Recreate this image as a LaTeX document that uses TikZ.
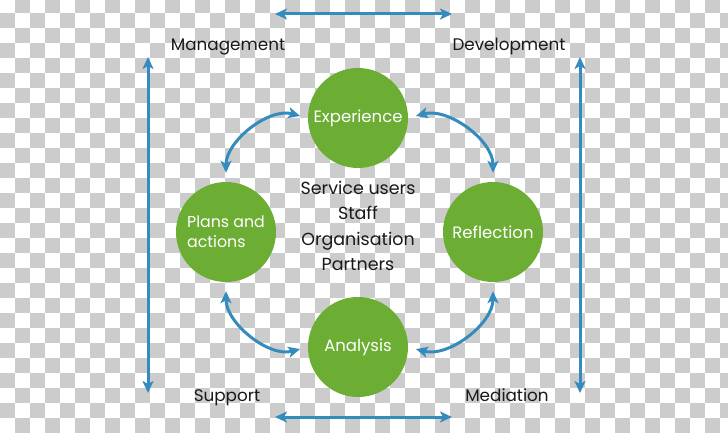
\documentclass[tikz,border=0pt]{standalone}
\usepackage{fontspec}
\setmainfont{Poppins}
\usepackage{tikz}
\usetikzlibrary{positioning,arrows.meta,calc}
\definecolor{CycleGreen}{RGB}{108,174,52}
\definecolor{CycleBlue}{RGB}{52,140,190}
\definecolor{CheckGray}{RGB}{204,204,204}
\newcommand{\checkerbg}[2]{%
    \fill[white] (0,0) rectangle (#1,#2);
    \foreach \j in {0,...,29}{%
        \pgfmathtruncatemacro{\firstcol}{mod(\j+1,2)}
        \pgfmathtruncatemacro{\secondcol}{\firstcol+2}
        \foreach \i in {\firstcol,\secondcol,...,48}
            \fill[CheckGray] ({15*\i},{434-15*\j}) rectangle ++(15,-15);
    }
}

\begin{document}
\begin{tikzpicture}[x=1pt,y=1pt,
    stage/.style={circle,fill=CycleGreen,minimum size=100pt,inner sep=0pt,
        text=white,font=\fontsize{16.5}{19}\selectfont},
    side/.style={font=\fontsize{16.8}{18}\selectfont,text=black!90,
        text height=12pt,text depth=4pt},
    link/.style={CycleBlue,line width=3pt,
        {Stealth[length=12pt,width=11pt,inset=3pt]}-{Stealth[length=12pt,width=11pt,inset=3pt]}}]
    \useasboundingbox (0,0) rectangle (728,432);
    \begin{scope}
        \clip (0,0) rectangle (728,432);
        \checkerbg{728}{432}
    \end{scope}

    % the four stages
    \node[stage] (exp) at (358,314) {Experience};
    \node[stage,align=left,font=\fontsize{15.8}{20}\selectfont] (plans) at (226,200) {Plans and\\actions};
    \node[stage] (refl) at (493,200) {Reflection};
    \node[stage] (anal) at (358,85) {Analysis};

    \node[align=center,text=black!90,font=\fontsize{17.5}{25.5}\selectfont] (people) at (358,206)
        {Service users\\Staff\\Organisation\\Partners};

    % corner labels
    \node[side] (mgmt) at (228,385) {Management};
    \node[side] (dev) at (509,385) {Development};
    \node[side] (supp) at (227,35) {Support};
    \node[side] (med) at (507,35) {Mediation};

    % outer arrows
    \coordinate (topL) at (275,418);
    \coordinate (topR) at (452,418);
    \coordinate (botL) at (275,15);
    \coordinate (botR) at (452,15);
    \coordinate (leftT) at (148,375);
    \coordinate (leftB) at (148,39);
    \coordinate (rightT) at (580,375);
    \coordinate (rightB) at (580,39);
    \draw[link] (topL) -- (topR);
    \draw[link] (botL) -- (botR);
    \draw[link] (leftT) -- (leftB);
    \draw[link] (rightT) -- (rightB);

    % cycle arrows
    \draw[link,shorten <=9pt,shorten >=8pt] (plans.north) to[out=90,in=165] (exp.west);
    \draw[link,shorten <=8pt,shorten >=9pt] (exp.east) to[out=15,in=90] (refl.north);
    \draw[link,shorten <=9pt,shorten >=8pt] (plans.south) to[out=-90,in=195] (anal.west);
    \draw[link,shorten <=8pt,shorten >=9pt] (anal.east) to[out=-15,in=-90] (refl.south);
\end{tikzpicture}
\end{document}
